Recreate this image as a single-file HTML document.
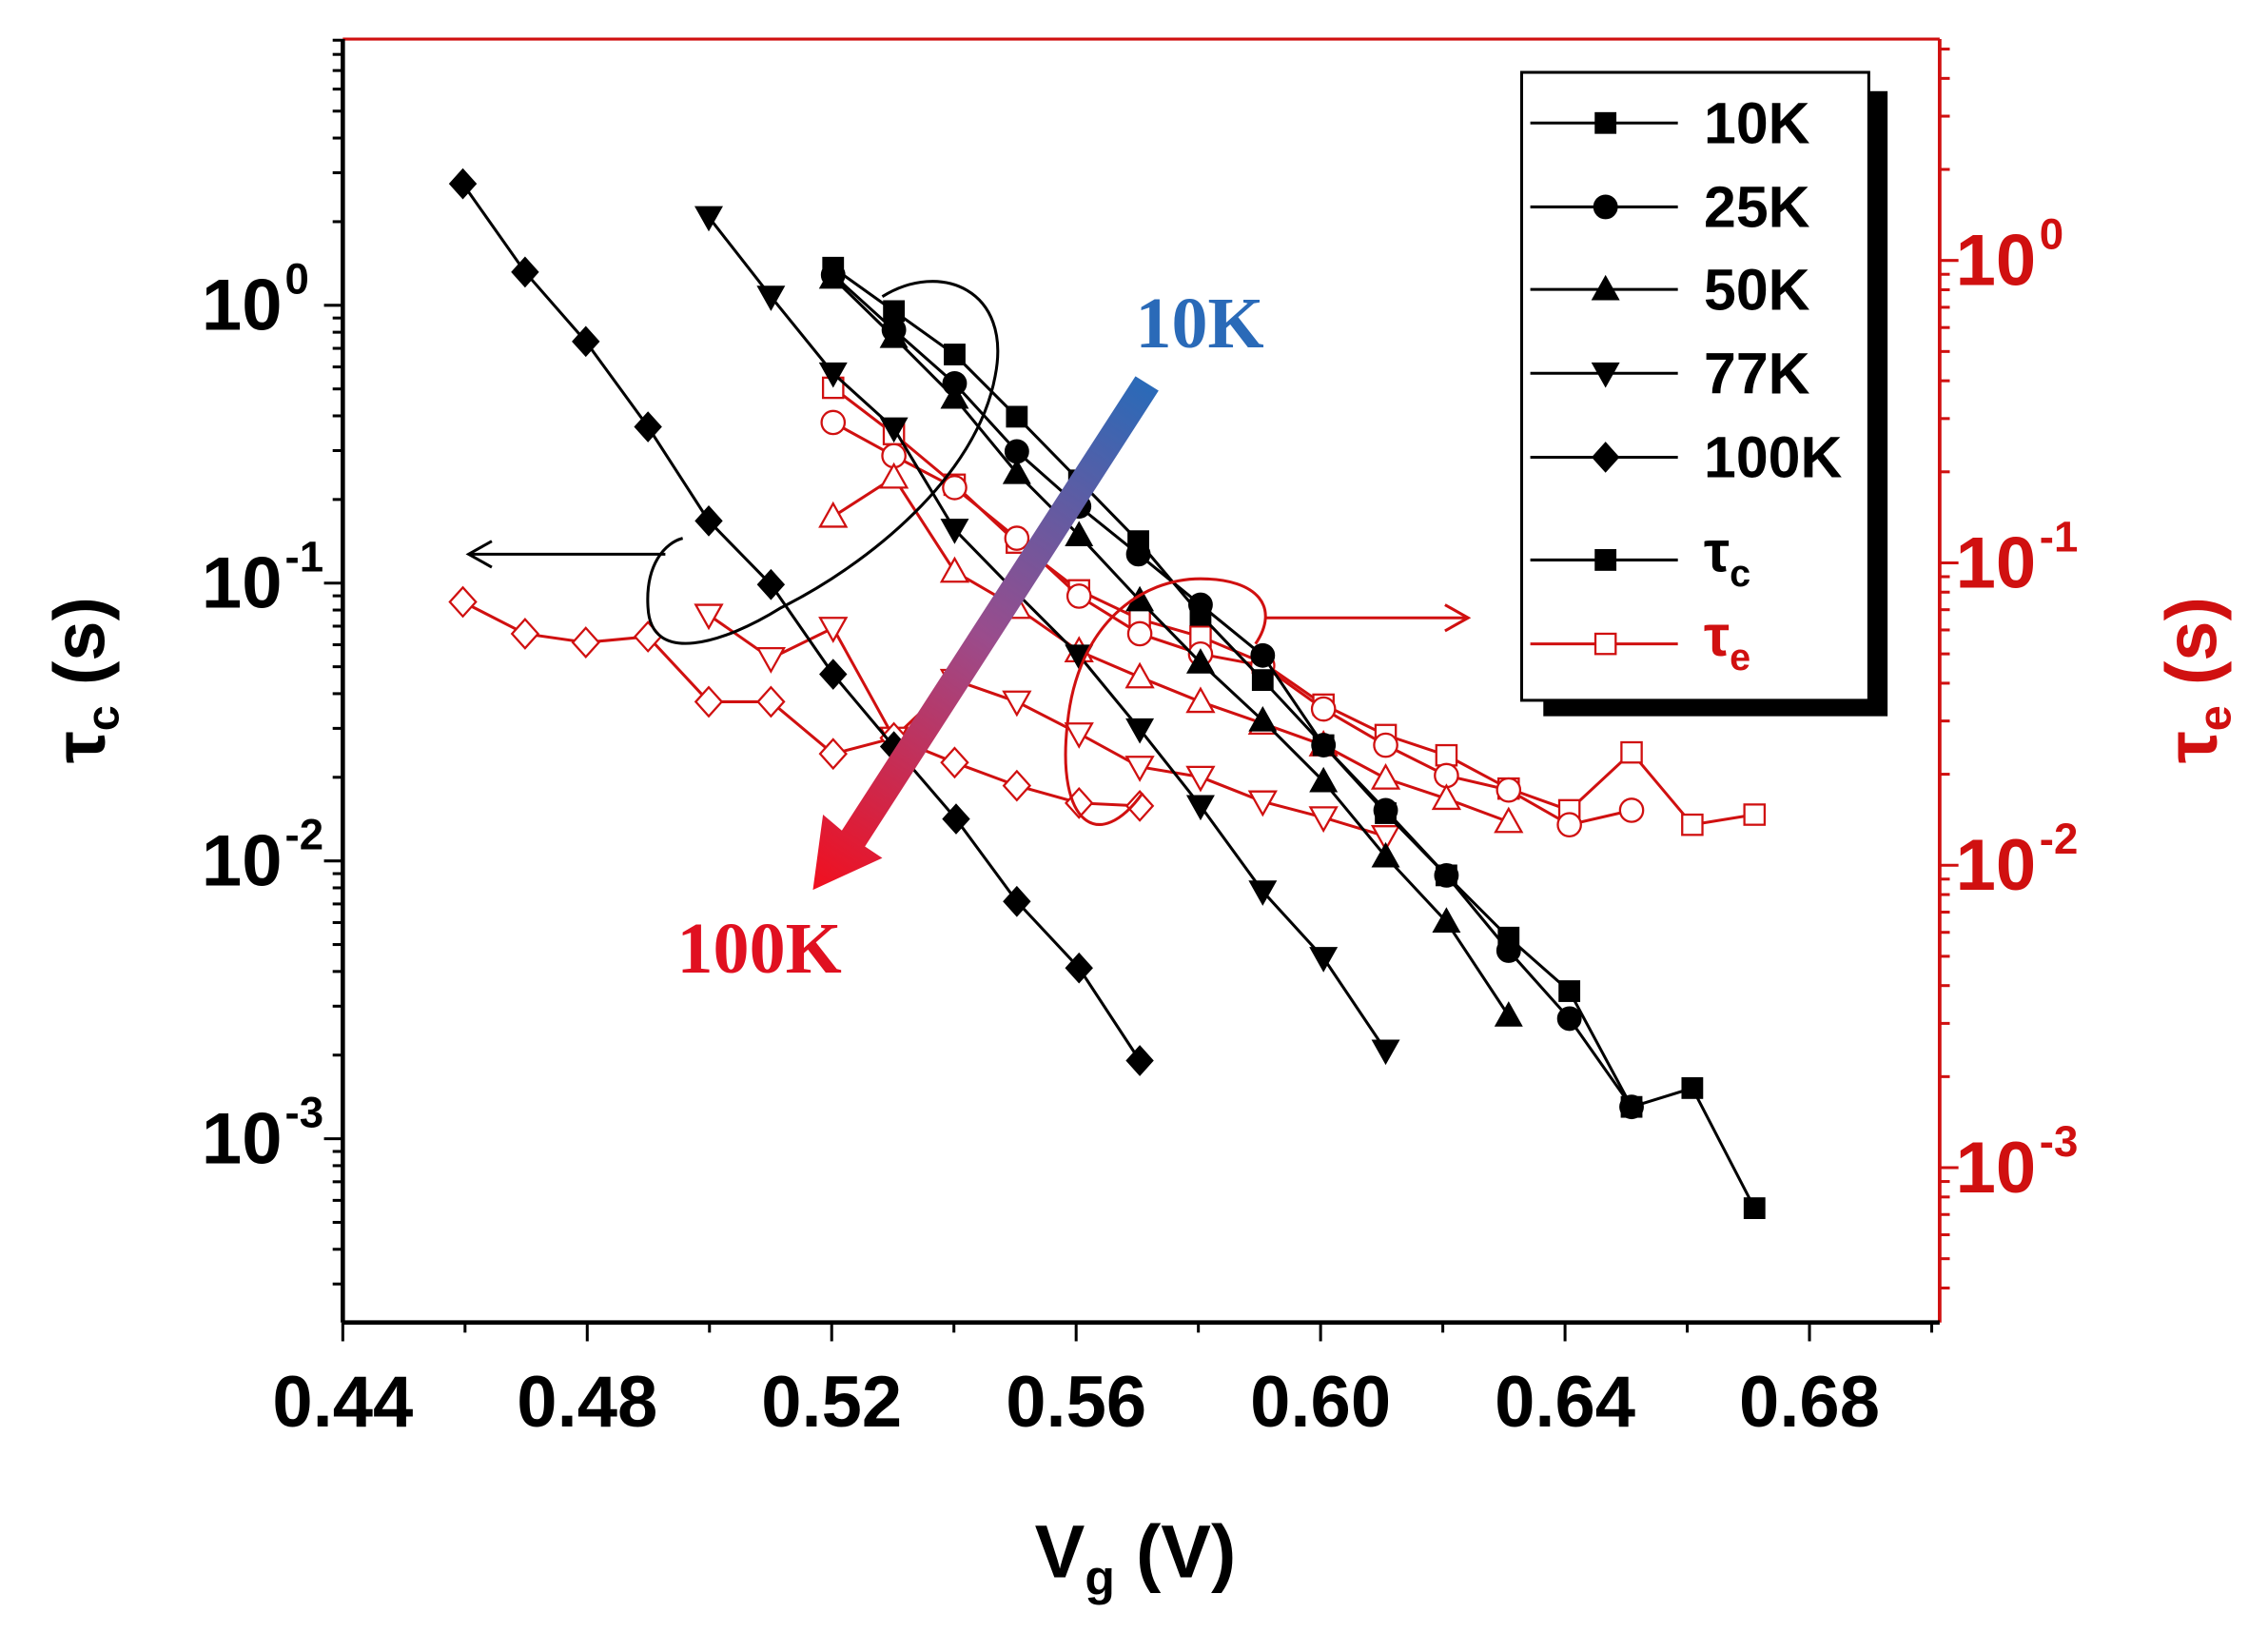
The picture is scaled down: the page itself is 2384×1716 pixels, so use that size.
<!DOCTYPE html>
<html><head><meta charset="utf-8"><style>html,body{margin:0;padding:0;background:#fff}svg{display:block}</style></head>
<body>
<svg id="s" width="2384" height="1716" viewBox="0 0 1568 1128.6" preserveAspectRatio="none" xmlns="http://www.w3.org/2000/svg" font-family="Liberation Sans, Arial, sans-serif" font-weight="bold">
<defs>
<linearGradient id="g" x1="793" y1="265" x2="565" y2="613" gradientUnits="userSpaceOnUse">
<stop offset="0" stop-color="#2a6ab8"/><stop offset="0.5" stop-color="#9a4c8c"/><stop offset="1" stop-color="#f01020"/></linearGradient>
<marker id="ab" markerWidth="10" markerHeight="10" refX="9" refY="5" orient="auto" markerUnits="userSpaceOnUse"><path d="M1,1 L9,5 L1,9" fill="none" stroke="#000" stroke-width="1.5"/></marker>
<marker id="ar" markerWidth="10" markerHeight="10" refX="9" refY="5" orient="auto"><path d="M1,1 L9,5 L1,9" fill="none" stroke="#d01010" stroke-width="1.2"/></marker>
</defs>
<g id="main"></g>
</svg>
<script>
const g=document.getElementById('main');let h='';
const L=237,R=1341,T=27,B=914;
h+=`<line x1="${L}" y1="${T}" x2="${R}" y2="${T}" stroke="#d01010" stroke-width="2"/>`;
h+=`<line x1="${R}" y1="${T}" x2="${R}" y2="${B}" stroke="#d01010" stroke-width="2.5"/>`;
h+=`<line x1="${L}" y1="${T}" x2="${L}" y2="${B}" stroke="#000" stroke-width="3"/>`;
h+=`<line x1="${L}" y1="${B}" x2="${R}" y2="${B}" stroke="#000" stroke-width="3"/>`;
const xv=v=>237+(v-0.44)*4225;
for(let i=0;i<=13;i++){const x=xv(0.44+i*0.02);const maj=i%2==0;h+=`<line x1="${x}" y1="${B}" x2="${x}" y2="${B+(maj?13:7)}" stroke="#000" stroke-width="2"/>`;
 if(maj)h+=`<text x="${x}" y="${B+72}" font-size="50" text-anchor="middle">${(0.44+i*0.02).toFixed(2)}</text>`;}
const yl=d=>211-192*d, yr=d=>180-209*d;
for(let d=-4;d<=1;d++){for(let m=1;m<10;m++){const v=d+Math.log10(m);const y=yl(v);if(y<T||y>B)continue;
 h+=`<line x1="${L-(m==1?13:7)}" y1="${y}" x2="${L}" y2="${y}" stroke="#000" stroke-width="2"/>`;}
 for(let m=1;m<10;m++){const y=yr(d+Math.log10(m));if(y<T||y>B)continue;h+=`<line x1="${R}" y1="${y}" x2="${R+(m==1?13:7)}" y2="${y}" stroke="#d01010" stroke-width="2"/>`;}}
for(const d of [0,-1,-2,-3]){h+=`<text x="195" y="${yl(d)+17}" font-size="50" text-anchor="end">10</text><text x="197" y="${yl(d)-8}" font-size="30">${d==0?'0':d}</text>`;
 h+=`<text x="1352" y="${yr(d)+17}" font-size="50" fill="#d01010">10</text><text x="1410" y="${yr(d)-8}" font-size="30" fill="#d01010">${d==0?'0':d}</text>`;}
h+=`<text transform="translate(72,470) rotate(-90)" font-size="50" text-anchor="middle">τ<tspan font-size="32" dy="10">c</tspan><tspan dy="-10"> (s)</tspan></text>`;
h+=`<text transform="translate(1532,470) rotate(-90)" font-size="50" text-anchor="middle" fill="#d01010">τ<tspan font-size="32" dy="10">e</tspan><tspan dy="-10"> (s)</tspan></text>`;
h+=`<text x="785" y="1090" font-size="52" text-anchor="middle">V<tspan font-size="34" dy="12">g</tspan><tspan dy="-12"> (V)</tspan></text>`;
function mk(t,x,y,c,open){const f=open?'#fff':c,sw=open?1.5:1;
 if(t=='s')return `<rect x="${x-7}" y="${y-7}" width="14" height="14" fill="${f}" stroke="${c}" stroke-width="${sw}"/>`;
 if(t=='c')return `<circle cx="${x}" cy="${y}" r="8" fill="${f}" stroke="${c}" stroke-width="${sw}"/>`;
 if(t=='u')return `<path d="M${x},${y-9} L${x+9},${y+7} L${x-9},${y+7}Z" fill="${f}" stroke="${c}" stroke-width="${sw}"/>`;
 if(t=='d')return `<path d="M${x},${y+9} L${x+9},${y-7} L${x-9},${y-7}Z" fill="${f}" stroke="${c}" stroke-width="${sw}"/>`;
 return `<path d="M${x},${y-10} L${x+9},${y} L${x},${y+10} L${x-9},${y}Z" fill="${f}" stroke="${c}" stroke-width="${sw}"/>`;}
function ser(pts,t,c,open){h+=`<polyline points="${pts.map(p=>p.join(',')).join(' ')}" fill="none" stroke="${c}" stroke-width="2"/>`;pts.forEach(p=>h+=mk(t,p[0],p[1],c,open));}
const R_='#d01010';
ser([[576,268],[618,300],[660,335],[703,375],[746,408],[788,428],[830,440],[873,458],[915,487],[958,508],[1000,522],[1043,545],[1085,560],[1128,520],[1170,570],[1213,563]],'s',R_,1);
ser([[576,292],[618,315],[660,337],[703,372],[746,412],[788,438],[830,452],[873,460],[915,490],[958,515],[1000,536],[1043,546],[1085,570],[1128,560]],'c',R_,1);
ser([[576,357],[618,330],[660,395],[703,420],[746,450],[788,468],[830,485],[873,500],[915,515],[958,538],[1000,552],[1043,568]],'u',R_,1);
ser([[490,425],[533,455],[576,434],[618,510],[660,470],[703,485],[746,507],[788,530],[830,537],[873,554],[915,565],[958,578]],'d',R_,1);
ser([[320,416],[363,438],[405,444],[448,440],[490,485],[533,485],[576,521],[618,510],[660,527],[703,543],[746,555],[788,557]],'D',R_,1);
ser([[576,185],[618,215],[660,245],[703,288],[746,332],[787,374],[830,425],[873,470],[915,515],[958,562],[1000,605],[1043,648],[1085,685],[1128,765],[1170,752],[1213,835]],'s','#000');
ser([[576,190],[618,228],[660,265],[703,312],[746,350],[787,383],[830,418],[873,453],[915,515],[958,560],[1000,605],[1043,657],[1085,704],[1128,765]],'c','#000');
ser([[576,192],[618,233],[660,275],[703,327],[746,370],[788,415],[830,458],[873,498],[915,540],[958,592],[1000,637],[1043,702]],'u','#000');
ser([[490,150],[533,205],[576,258],[618,296],[660,366],[703,410],[746,453],[788,504],[830,557],[873,616],[915,662],[958,726]],'d','#000');
ser([[320,127],[363,188],[405,236],[448,295],[490,360],[533,404],[576,466],[618,516],[661,566],[703,623],[746,669],[788,733]],'D','#000');
h+=`<path d="M610,205 C650,180 700,200 688,260 C675,330 600,390 540,420 C500,445 450,460 448,420 C446,390 460,375 472,372" fill="none" stroke="#000" stroke-width="2"/>`;
h+=`<line x1="460" y1="383" x2="324" y2="383" stroke="#000" stroke-width="2"/><path d="M340,374 L324,383 L340,392" fill="none" stroke="#000" stroke-width="2"/>`;
h+=`<path d="M790,548 C760,590 730,570 738,500 C745,430 790,400 830,400 C870,400 885,420 868,445" fill="none" stroke="${R_}" stroke-width="2"/>`;
h+=`<line x1="875" y1="427" x2="1015" y2="427" stroke="${R_}" stroke-width="2"/><path d="M999,418 L1015,427 L999,436" fill="none" stroke="${R_}" stroke-width="2"/>`;
h+=`<path d="M785,260 L801,270 L598,585 L610,593 L562,615 L569,563 L582,574 Z" fill="url(#g)"/>`;
h+=`<text x="785" y="240" font-family="Liberation Serif, serif" font-size="50" fill="#2a6ab8">10K</text>`;
h+=`<text x="468" y="672" font-family="Liberation Serif, serif" font-size="50" fill="#e01020">100K</text>`;
h+=`<rect x="1067" y="63" width="238" height="432" fill="#000"/><rect x="1052" y="50" width="240" height="434" fill="#fff" stroke="#000" stroke-width="2"/>`;
const le=[['s','10K'],['c','25K'],['u','50K'],['d','77K'],['D','100K']];
[85,143,200,258,316].forEach((y,i)=>{h+=`<line x1="1058" y1="${y}" x2="1160" y2="${y}" stroke="#000" stroke-width="2"/>`+mk(le[i][0],1110,y,'#000',0)+`<text x="1178" y="${y+14}" font-size="40">${le[i][1]}</text>`;});
h+=`<line x1="1058" y1="387" x2="1160" y2="387" stroke="#000" stroke-width="2"/>`+mk('s',1110,387,'#000',0)+`<text x="1178" y="395" font-size="40">τ<tspan font-size="26" dy="10">c</tspan></text>`;
h+=`<line x1="1058" y1="445" x2="1160" y2="445" stroke="${R_}" stroke-width="2"/>`+mk('s',1110,445,R_,1)+`<text x="1178" y="453" font-size="40" fill="${R_}">τ<tspan font-size="26" dy="10">e</tspan></text>`;
g.innerHTML=h;
</script>
</body></html>
